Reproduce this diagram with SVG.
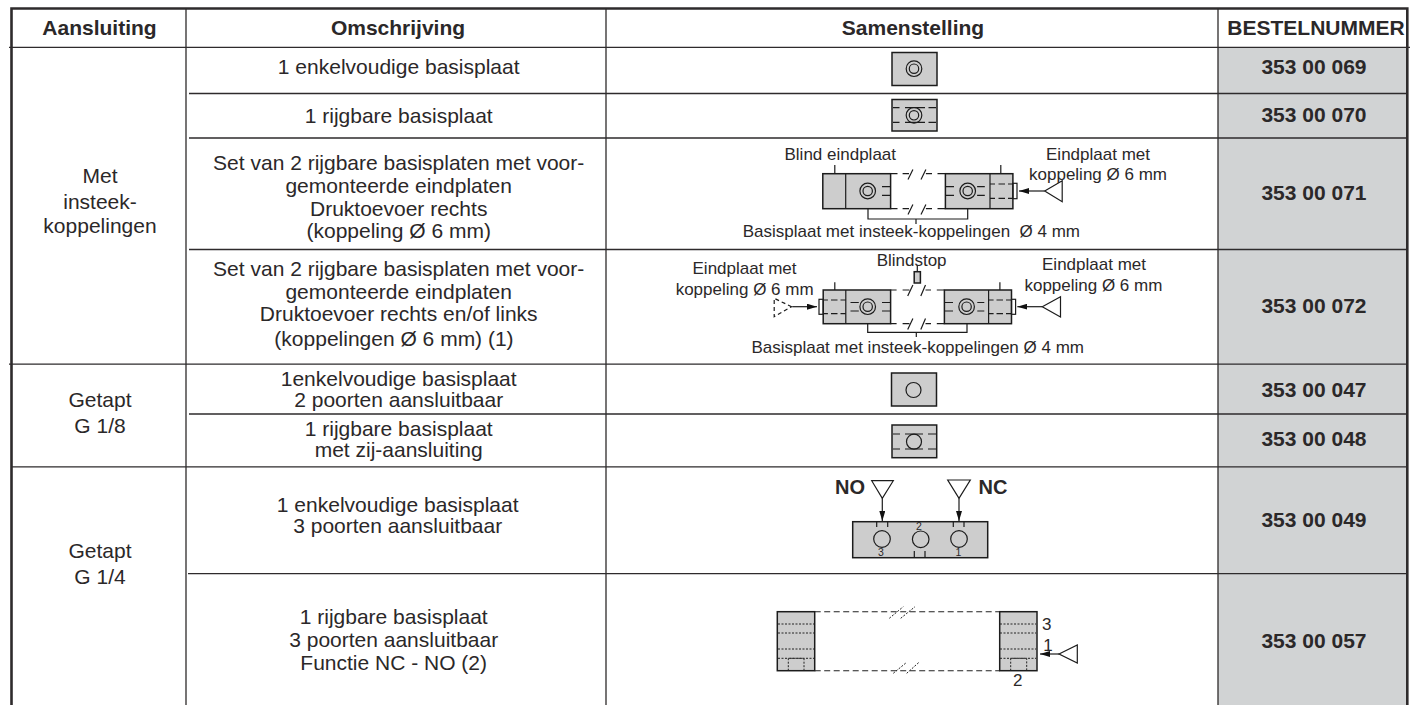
<svg xmlns="http://www.w3.org/2000/svg" xmlns:xlink="http://www.w3.org/1999/xlink" width="1418" height="705" viewBox="0 0 1418 705">
<style>
text{font-family:"Liberation Sans",Arial,sans-serif;fill:#2b2829}
.b{font-size:21px;text-anchor:middle}
.h{font-size:21px;font-weight:bold;text-anchor:middle}
.s{font-size:17px}
.m{text-anchor:middle}
.t{font-size:10.5px;text-anchor:middle}
.g{fill:none;stroke:#2e2b2c;stroke-width:1.3}
.f{fill:none;stroke:#2e2b2c;stroke-width:2.6}
.p{fill:#cdcdcd;stroke:#1c1c1c;stroke-width:1.5}
.l{fill:none;stroke:#1c1c1c;stroke-width:1.2}
.d{fill:none;stroke:#222;stroke-width:1.1;stroke-dasharray:6 3.5}
.o{fill:none;stroke:#222;stroke-width:1;stroke-dasharray:2 1.5}
.a{fill:none;stroke:#1c1c1c;stroke-width:1.2;marker-end:url(#ah)}
.c{fill:none;stroke:#1c1c1c;stroke-width:1.2}
</style>
<defs>
<marker id="ah" markerUnits="userSpaceOnUse" markerWidth="10" markerHeight="6" refX="10" refY="3" orient="auto"><path d="M0 0L10 3L0 6Z" fill="#111"/></marker>
<g id="ring"><circle class="c" r="7.8"/><circle class="c" r="4.7"/></g>
</defs>
<rect width="1418" height="705" fill="#fff"/>
<g id="grid">
<rect x="1218" y="47" width="188" height="658" fill="#d1d3d4"/>
<path class="g" d="M186 9V705M606 9V705M1218 9V705"/>
<path class="g" d="M9 47.3H1410M189 93.5H1407M189 138H1407M189 249.5H1407M9 364.2H1407M189 414H1407M11 466.8H1407M188 573.7H1406"/>
<path class="f" d="M11.5 705V8.5H1407.3V705"/>
</g>
<g id="header">
<text class="h" x="99.5" y="35">Aansluiting</text>
<text class="h" x="398" y="35">Omschrijving</text>
<text class="h" x="913" y="35">Samenstelling</text>
<text class="h" x="1316" y="35">BESTELNUMMER</text>
</g>
<g id="col-aansluiting">
<text class="b" x="100" y="182.7">Met</text>
<text class="b" x="100" y="209.3">insteek-</text>
<text class="b" x="100" y="233.3">koppelingen</text>
<text class="b" x="100" y="406.7">Getapt</text>
<text class="b" x="100" y="433.3">G 1/8</text>
<text class="b" x="100" y="558">Getapt</text>
<text class="b" x="100" y="584">G 1/4</text>
</g>
<g id="col-omschrijving">
<text class="b" x="398.7" y="74.3">1 enkelvoudige basisplaat</text>
<text class="b" x="398.7" y="123.3">1 rijgbare basisplaat</text>
<text class="b" x="398.7" y="170">Set van 2 rijgbare basisplaten met voor-</text>
<text class="b" x="398.7" y="193.3">gemonteerde eindplaten</text>
<text class="b" x="398.7" y="215.7">Druktoevoer rechts</text>
<text class="b" x="398.7" y="237.7">(koppeling Ø 6 mm)</text>
<text class="b" x="398.7" y="276">Set van 2 rijgbare basisplaten met voor-</text>
<text class="b" x="398.7" y="299.3">gemonteerde eindplaten</text>
<text class="b" x="398.7" y="320.7">Druktoevoer rechts en/of links</text>
<text class="b" x="394" y="346">(koppelingen Ø 6 mm) (1)</text>
<text class="b" x="398.7" y="386">1enkelvoudige basisplaat</text>
<text class="b" x="398.7" y="406.7">2 poorten aansluitbaar</text>
<text class="b" x="398.7" y="436">1 rijgbare basisplaat</text>
<text class="b" x="398.7" y="457.3">met zij-aansluiting</text>
<text class="b" x="397.7" y="511.7">1 enkelvoudige basisplaat</text>
<text class="b" x="397.7" y="532.7">3 poorten aansluitbaar</text>
<text class="b" x="393.7" y="624">1 rijgbare basisplaat</text>
<text class="b" x="393.7" y="646.7">3 poorten aansluitbaar</text>
<text class="b" x="393.7" y="670">Functie NC - NO (2)</text>
</g>
<g id="col-bestelnummer">
<text class="h" x="1314" y="74">353 00 069</text>
<text class="h" x="1314" y="122.4">353 00 070</text>
<text class="h" x="1314" y="200.4">353 00 071</text>
<text class="h" x="1314" y="313">353 00 072</text>
<text class="h" x="1314" y="397.3">353 00 047</text>
<text class="h" x="1314" y="446.3">353 00 048</text>
<text class="h" x="1314" y="526.6">353 00 049</text>
<text class="h" x="1314" y="647.5">353 00 057</text>
</g>
<g id="plate-069">
<rect class="p" x="892" y="52.5" width="45" height="33"/>
<use xlink:href="#ring" x="914" y="68.7"/>
</g>
<g id="plate-070">
<rect class="p" x="892" y="99.5" width="45" height="31.5"/>
<use xlink:href="#ring" x="914" y="115.3"/>
<path class="l" d="M893 107.7h6.5M905 107.7h20M928.5 107.7h7.5M893 122.3h6.5M905 122.3h20M928.5 122.3h7.5"/>
</g>
<g id="set-071">
<rect class="p" x="822.8" y="173.7" width="67.8" height="35"/>
<rect class="p" x="945.4" y="173.7" width="67.5" height="35"/>
<path class="l" d="M845.7 173.7v35M990 173.7v35M834.8 165v8.7M1000.8 165v8.7"/>
<use xlink:href="#ring" x="867.7" y="191"/><use xlink:href="#ring" x="967.7" y="191"/>
<path class="l" d="M882 186.7h8.6M882 195.3h8.6M945.4 186.7h8.6M945.4 195.3h8.6M977.1 186.7h7.7M977.1 195.3h7.7"/>
<path class="l" d="M990 184h5M998.5 184h6.5M1008 184h5M990 198.3h5M998.5 198.3h6.5M1008 198.3h5"/>
<rect class="l" x="1012.9" y="183.3" width="4.1" height="15.4"/>
<path class="a" d="M1044.7 191H1019"/>
<path class="l" d="M1044.7 191L1062.2 180.7V201.7Z"/>
<path class="l" d="M890.6 173.7h6.9M902.6 173.7h6.4M908 179.5l4.9-10M921 179.5l4.9-10M925.9 173.7h6.1M937.5 173.7h7.9M890.6 208.7h6.9M902.6 208.7h6.4M908 214.5l4.9-10M921 214.5l4.9-10M925.9 208.7h6.1M937.5 208.7h7.9"/>
<path class="l" d="M868 208.7V219H967.7V208.7M916 219v5"/>
<text class="s" x="784.5" y="160">Blind eindplaat</text>
<text class="s m" x="1098" y="160">Eindplaat met</text>
<text class="s m" x="1098" y="180">koppeling Ø 6 mm</text>
<text class="s" x="742.7" y="237" xml:space="preserve">Basisplaat met insteek-koppelingen  Ø 4 mm</text>
</g>
<g id="set-072">
<rect class="p" x="823.2" y="290" width="67.4" height="33.7"/>
<rect class="p" x="944.4" y="290" width="67.1" height="33.7"/>
<path class="l" d="M845.8 290v33.7M988.6 290v33.7M834.8 282.3V290M999.9 282.3V290"/>
<use xlink:href="#ring" x="867.7" y="306.7"/><use xlink:href="#ring" x="966.6" y="306.7"/>
<path class="l" d="M850.5 302.5h8.3M850.5 311h8.3M882 302.5h8.6M882 311h8.6M944.4 302.5h8.6M944.4 311h8.6M977.3 302.5h7M977.3 311h7"/>
<path class="l" d="M823.2 300h4.7M831 300h6.5M840.5 300h5.3M823.2 313.7h4.7M831 313.7h6.5M840.5 313.7h5.3M988.6 300h5M996.5 300h6.5M1006 300h5.5M988.6 313.7h5M996.5 313.7h6.5M1006 313.7h5.5"/>
<rect class="l" x="819" y="299.3" width="4.2" height="15"/>
<rect class="l" x="1011.5" y="299.3" width="4.1" height="15"/>
<path class="a" d="M792.3 306.7H817"/>
<path class="a" d="M1042.3 306.7H1017.3"/>
<path class="l" d="M1042.3 306.7L1060.5 296.7V317Z"/>
<path class="l" stroke-dasharray="4 3" d="M791.6 306.7L774.2 298.3V316.7Z"/>
<rect class="p" x="914.2" y="271.7" width="6.2" height="11.3"/>
<path class="l" d="M917.3 265v6.7"/>
<path class="l" d="M890.6 290h6M902.6 290h6.8M907.7 296l5.2-11M920.8 296l4.7-11M925.5 290h5.5M936.8 290h7.6M890.6 323.7h6M902.6 323.7h6.8M907.7 329.5l5.2-11M920.8 329.5l4.7-11M925.5 323.7h5.5M936.8 323.7h7.6"/>
<path class="l" d="M867.7 323.7V332.3H967V323.7M916.3 332.3V337"/>
<text class="s m" x="911.6" y="265.7">Blindstop</text>
<text class="s m" x="744.5" y="274">Eindplaat met</text>
<text class="s" x="813.6" y="295" text-anchor="end">koppeling Ø 6 mm</text>
<text class="s m" x="1094" y="270">Eindplaat met</text>
<text class="s m" x="1093.4" y="290.7">koppeling Ø 6 mm</text>
<text class="s" x="1084" y="353" text-anchor="end">Basisplaat met insteek-koppelingen Ø 4 mm</text>
</g>
<g id="plate-047">
<rect class="p" x="891.5" y="373" width="45" height="33"/>
<circle class="c" cx="913.5" cy="390" r="7.5"/>
</g>
<g id="plate-048">
<rect class="p" x="892" y="425" width="44.7" height="32.7"/>
<circle class="c" cx="914" cy="441.7" r="7.5"/>
<path class="l" d="M893 434h7M905 434h18M928 434h8M893 449h7M905 449h18M928 449h8"/>
</g>
<g id="plate-049">
<path class="l" d="M871.7 480.7H893.3L882.3 498.3ZM947.7 480H970.3L959 498.3Z"/>
<path class="a" d="M882.3 498.3V521"/>
<path class="a" d="M959 498.3V521"/>
<rect class="p" x="852.7" y="521.7" width="135" height="36"/>
<circle class="c" cx="882" cy="539" r="8.3"/><circle class="c" cx="920.7" cy="539.3" r="8.3"/><circle class="c" cx="959" cy="539" r="8.3"/>
<path class="l" d="M876.7 521.7v5.3M887.7 521.7v5.3M953.3 521.7v5.3M964 521.7v5.3M914.3 551v6.7M925 551v6.7"/>
<text class="h" x="850" y="494" style="font-size:20px">NO</text>
<text class="h" x="993" y="494" style="font-size:20px">NC</text>
<text class="t" x="919" y="530">2</text>
<text class="t" x="881" y="556">3</text>
<text class="t" x="958.3" y="556">1</text>
</g>
<g id="plate-057">
<rect class="p" x="777.3" y="611.7" width="37.4" height="59"/>
<rect class="p" x="999.7" y="611.7" width="37.3" height="59"/>
<path class="o" d="M778 624H814M778 633H814M778 649H814M778 658.3H814M1000 624H1036M1000 633H1036M1000 649H1036M1000 658.3H1036M788.3 670.7V658.3H804V670.7M1010.7 670.7V658.3H1026.7V670.7"/>
<path class="d" d="M814.7 611.7H999.7M814.7 670.7H999.7"/>
<path class="o" d="M889.3 618.3L903.3 606.7M900.7 618.3L915 606.7M893.3 673.3L906.7 662.3M906.7 673.3L919 662.3"/>
<path class="a" d="M1059 654H1040"/>
<path class="l" d="M1059 654L1077.3 645V663Z"/>
<text x="1042" y="630" style="font-size:17px">3</text>
<text x="1043.3" y="651" style="font-size:17px">1</text>
<text x="1013" y="686" style="font-size:17px">2</text>
</g>
</svg>
